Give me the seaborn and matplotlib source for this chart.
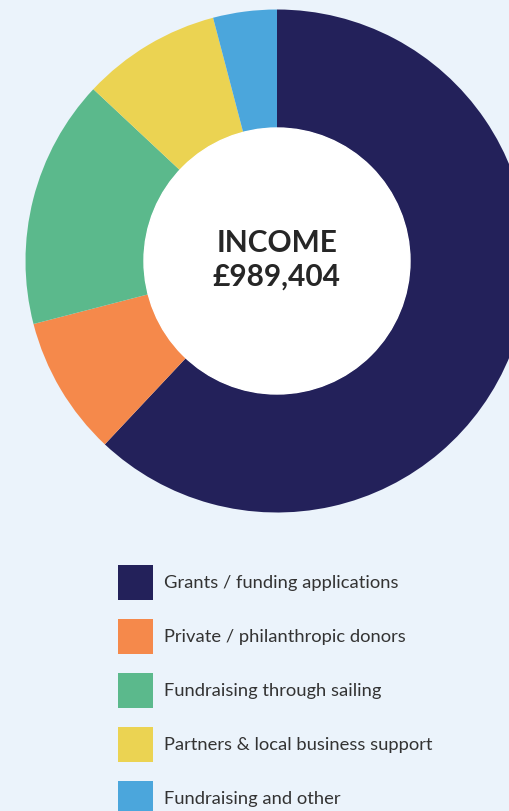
import seaborn as sns
import matplotlib.pyplot as plt
from matplotlib.patches import Rectangle

categories = ["Grants / funding applications", "Private / philanthropic donors",
              "Fundraising through sailing", "Partners & local business support",
              "Fundraising and other"]
income = [613430, 88750, 158300, 88450, 40474]
colors = ["#23215A", "#F5894B", "#5BB98C", "#EBD352", "#4BA6DC"]
title_lines = ["INCOME", "£989,404"]

bg = "#EBF3FB"
sns.set_theme(style="white", rc={"figure.facecolor": bg, "axes.facecolor": bg})
plt.rcParams["font.family"] = ["Lato", "DejaVu Sans"]
palette = sns.color_palette(colors)

fig = plt.figure(figsize=(5.1, 8.12), dpi=100)
ax = fig.add_axes([0, 0, 1, 1])

# work in pixel coordinates, y up
cx, cy, r_out, r_in = 277, 812 - 262, 251.5, 133
wedges, _ = ax.pie(income, colors=palette, startangle=90,
                   counterclock=False, center=(cx, cy), radius=r_out,
                   wedgeprops=dict(width=r_out - r_in, linewidth=0))
ax.add_patch(plt.Circle((cx, cy), r_in, color="white", zorder=3))
ax.set_xlim(0, 510)
ax.set_ylim(0, 812)
ax.set_aspect("equal")
ax.axis("off")

ax.text(cx, 812 - 243, title_lines[0], ha="center", va="center",
        fontsize=21.5, fontweight="bold", color="#262626", zorder=4)
ax.text(cx, 812 - 277, title_lines[1], ha="center", va="center",
        fontsize=21.5, fontweight="bold", color="#262626", zorder=4)

# legend
for i, (lab, col) in enumerate(zip(categories, palette)):
    yc = 812 - (583.5 + 54 * i)
    ax.add_patch(Rectangle((118, yc - 17.5), 35, 35, color=col, lw=0))
    ax.text(164, yc, lab, ha="left", va="center", fontsize=13.2,
            color="#333333")

fig.savefig("out.png", dpi=100, facecolor=bg)
